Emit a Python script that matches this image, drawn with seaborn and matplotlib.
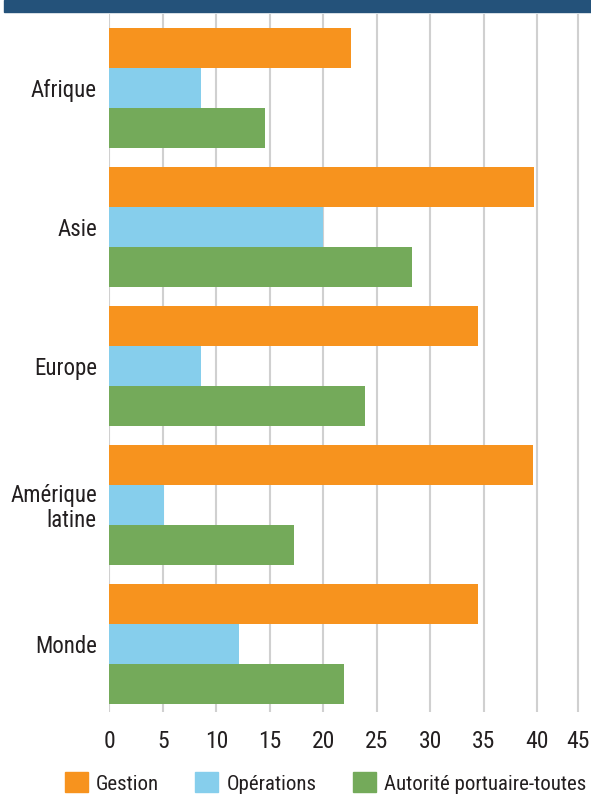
import pandas as pd
import matplotlib.pyplot as plt
import seaborn as sns
from matplotlib import font_manager
from matplotlib.patches import Rectangle

# -------------------------------
# DATA
# -------------------------------
regions = ["Afrique", "Asie", "Europe", "Amérique\nlatine", "Monde"]
series = ["Gestion", "Opérations", "Autorité portuaire-toutes"]

gestion = [22.6, 39.7, 34.4, 39.6, 34.4]
operations = [8.6, 20.0, 8.6, 5.1, 12.1]
autorite = [14.5, 28.3, 23.9, 17.3, 21.9]

xtick_values = [0, 5, 10, 15, 20, 25, 30, 35, 40, 43.75]
xtick_labels = ["0", "5", "10", "15", "20", "25", "30", "35", "40", "45"]

colors = ["#F7931E", "#86CEEC", "#74AA5A"]

df = pd.DataFrame({
    "region": regions * 3,
    "serie": [series[0]] * 5 + [series[1]] * 5 + [series[2]] * 5,
    "valeur": gestion + operations + autorite,
})

# -------------------------------
# STYLE
# -------------------------------
sns.set_style("white")

# pick a narrow font if one is installed
installed = {f.name for f in font_manager.fontManager.ttflist}
font = "Roboto"
for cand in ["Roboto Condensed", "Liberation Sans Narrow", "Open Sans Condensed"]:
    if cand in installed:
        font = cand
        break
plt.rcParams["font.family"] = [font, "DejaVu Sans"]

fig = plt.figure(figsize=(5.91, 7.96), dpi=100)
ax = fig.add_axes([109.3 / 591, 84 / 796, 1 - 109.3 / 591, (796 - 14 - 84) / 796])

sns.barplot(
    data=df,
    y="region",
    x="valeur",
    hue="serie",
    orient="h",
    palette=colors,
    width=0.863,
    saturation=1,
    linewidth=0,
    ax=ax,
    legend=False,
)

ax.set_xlim(0, 45)
ax.set_ylim(4.49, -0.532)
ax.set_xticks(xtick_values)
ax.set_xticklabels(xtick_labels)
ax.xaxis.grid(True, color="#d0d0d0", linewidth=1.5)
ax.set_axisbelow(True)
for s in ax.spines.values():
    s.set_visible(False)

ax.set_xlabel("")
ax.set_ylabel("")
ax.tick_params(axis="x", length=0, pad=13, labelsize=17, labelcolor="#231f20")
ax.tick_params(axis="y", length=0, pad=9, labelsize=16.5, labelcolor="#231f20")
for t in ax.get_yticklabels():
    t.set_horizontalalignment("right")
    t.set_multialignment("right")
    t.set_linespacing(1.1)

# top band
fig.patches.append(Rectangle((4 / 591, 1 - 11.5 / 796), 1, 11.5 / 796,
                             transform=fig.transFigure, color="#24527A", zorder=5))

# legend
handles = [Rectangle((0, 0), 1, 1, color=c) for c in colors]
fig.legend(handles, series, loc="center", bbox_to_anchor=(0.551, 13 / 796),
           ncol=3, frameon=False, fontsize=15, handlelength=1.1, handleheight=1.1,
           handletextpad=0.4, columnspacing=1.75, labelcolor="#231f20")

fig.savefig("out.png", dpi=100)
